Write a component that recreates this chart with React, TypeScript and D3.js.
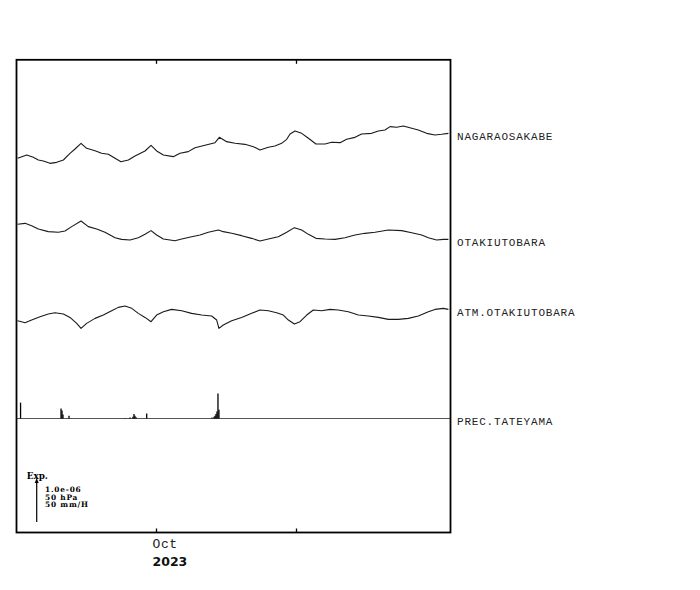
import React from "react";
import * as d3 from "d3";

// ---- data ----
const START = Date.UTC(2023, 8, 21); // Sep 21 2023
const END = Date.UTC(2023, 9, 22); // Oct 22 2023
const DAY = 86400000;

const tickDates = [Date.UTC(2023, 9, 1), Date.UTC(2023, 9, 11)];
const tickLabels = ["Oct", ""];
const yearLabel = "2023";

const seriesNames = ["NAGARAOSAKABE", "OTAKIUTOBARA", "ATM.OTAKIUTOBARA", "PREC.TATEYAMA"];

// strain, nanostrain (relative)
const nagaraDays = [0.08, 0.73, 1.2, 1.56, 1.92, 2.39, 2.87, 3.35, 3.82, 4.18, 4.61, 5.01, 5.61, 6.08, 6.56, 7.04, 7.46, 7.99, 8.46, 9.18, 9.61, 10.01, 10.49, 11.2, 11.68, 12.27, 12.75, 13.46, 14.18, 14.49, 15.01, 15.61, 16.32, 16.92, 17.39, 17.99, 18.46, 18.94, 19.3, 19.54, 19.89, 20.37, 20.85, 21.39, 22.04, 22.51, 23.11, 23.58, 24.18, 24.65, 25.37, 25.85, 26.32, 26.68, 27.15, 27.63, 28.23, 28.7, 29.3, 29.89, 30.37, 30.85];
const nagaraValues = [38, 114, 61, 0, -23, -76, -53, 0, 152, 250, 379, 265, 212, 152, 129, 38, -38, 0, 91, 205, 334, 205, 114, 76, 152, 190, 280, 334, 394, 515, 417, 379, 356, 303, 227, 288, 318, 379, 470, 591, 659, 606, 493, 364, 364, 402, 394, 470, 515, 591, 606, 659, 682, 758, 743, 773, 720, 682, 606, 569, 584, 606];

const otakiDays = [0.08, 0.61, 1.08, 1.56, 2.27, 2.99, 3.46, 3.94, 4.61, 5.13, 5.73, 6.32, 7.04, 7.51, 8.11, 8.7, 9.18, 9.61, 10.01, 10.49, 11.32, 11.8, 12.51, 13.11, 13.7, 14.42, 14.77, 15.37, 16.08, 16.8, 17.39, 17.99, 18.7, 19.3, 19.85, 20.37, 20.85, 21.39, 22.04, 22.75, 23.46, 24.18, 24.89, 25.61, 26.56, 27.51, 28.23, 28.94, 29.42, 30.01, 30.49, 30.85];
const otakiValues = [243, 265, 212, 136, 76, 61, 91, 190, 318, 190, 136, 61, -61, -99, -114, -61, 15, 99, 0, -91, -129, -91, -38, 0, 61, 114, 76, 38, -15, -76, -136, -91, -38, 61, 167, 114, 15, -76, -91, -99, -61, 0, 38, 61, 114, 99, 53, 0, -61, -114, -99, -99];

// atmospheric pressure, hPa
const atmDays = [0.08, 0.61, 1.08, 1.68, 2.27, 2.75, 3.35, 3.82, 4.3, 4.61, 5.01, 5.61, 6.2, 6.8, 7.27, 7.75, 8.23, 8.7, 9.18, 9.61, 10.01, 10.49, 11.08, 11.8, 12.51, 13.23, 13.94, 14.3, 14.46, 14.77, 15.37, 16.08, 16.8, 17.39, 17.99, 18.58, 19.06, 19.42, 19.85, 20.25, 20.73, 21.2, 21.8, 22.39, 22.99, 23.7, 24.42, 25.13, 25.85, 26.56, 27.27, 27.99, 28.7, 29.42, 29.89, 30.49, 30.85];
const atmValues = [1005.5, 1003.2, 1006.2, 1010.0, 1013.0, 1014.5, 1013.0, 1009.2, 1002.4, 996.7, 1002.4, 1008.1, 1011.9, 1016.8, 1020.6, 1022.1, 1019.5, 1013.8, 1009.2, 1004.3, 1011.9, 1015.7, 1018.3, 1016.8, 1013.8, 1011.9, 1010.8, 1006.2, 996.7, 1000.5, 1005.5, 1009.2, 1013.8, 1017.6, 1016.8, 1014.5, 1011.9, 1006.2, 1001.7, 1004.3, 1011.9, 1017.6, 1016.8, 1018.3, 1017.6, 1015.7, 1011.9, 1010.8, 1009.2, 1007.0, 1007.0, 1008.1, 1010.8, 1015.7, 1018.3, 1019.5, 1018.3];

// precipitation, mm/h
const precDays = [0.29, 3.18, 3.25, 3.32, 3.75, 7.75, 8.11, 8.32, 8.39, 8.46, 8.54, 9.3, 13.96, 14.11, 14.18, 14.25, 14.32, 14.39, 14.46];
const precValues = [18, 11.4, 9, 4.5, 3, 0.5, 1, 2, 5, 3, 1.5, 5.7, 1, 2, 3, 5, 8, 28.4, 10];

const scaleTitle = "Exp.";
const scaleLabels = ["1.0e-06", "50 hPa", "50 mm/H"];

// ---- layout ----
const L = 16.5, R = 450.5, T = 59.8, B = 532.5;
const UNIT_PX = 44; // length of scale arrow

export default function App() {
  const x = d3.scaleUtc().domain([new Date(START), new Date(END)]).range([L, R]);
  const toDate = (d: number) => new Date(START + d * DAY);

  const yNag = d3.scaleLinear().domain([0, 1000]).range([160, 160 - UNIT_PX]);
  const yOta = d3.scaleLinear().domain([0, 1000]).range([235, 235 - UNIT_PX]);
  const yAtm = d3.scaleLinear().domain([1010, 1060]).range([316.7, 316.7 - UNIT_PX]);
  const yPrec = d3.scaleLinear().domain([0, 50]).range([418.5, 418.5 - UNIT_PX]);

  const mk = (days: number[], vals: number[], y: d3.ScaleLinear<number, number>) =>
    d3.line<number>().x((_, i) => x(toDate(days[i]))).y((v) => y(v))(vals) || "";

  const series = [
    { name: seriesNames[0], path: mk(nagaraDays, nagaraValues, yNag), lastY: yNag(nagaraValues[nagaraValues.length - 1]) },
    { name: seriesNames[1], path: mk(otakiDays, otakiValues, yOta), lastY: yOta(otakiValues[otakiValues.length - 1]) },
    { name: seriesNames[2], path: mk(atmDays, atmValues, yAtm), lastY: yAtm(atmValues[atmValues.length - 1]) },
  ];

  const scaleBottom = 522;
  const arrowX = 36.7;

  return (
    <svg width={700} height={590} style={{ position: "absolute", left: 0, top: 0, background: "#fff" }}>
      <rect x={0} y={0} width={700} height={590} fill="#fff" />
      {/* series */}
      {series.map((s) => (
        <g key={s.name}>
          <path d={s.path} fill="none" stroke="#1a1a1a" strokeWidth={1.1} strokeLinejoin="round" />
          <text x={457} y={s.lastY + 6.5} fontFamily="'Liberation Mono', monospace" fontSize={11} letterSpacing={0.8} fill="#222">
            {s.name}
          </text>
        </g>
      ))}
      {/* precipitation */}
      <line x1={L} x2={R} y1={yPrec(0)} y2={yPrec(0)} stroke="#555" strokeWidth={1.1} />
      {precValues.map((v, i) => (
        <line key={i} x1={x(toDate(precDays[i]))} x2={x(toDate(precDays[i]))} y1={yPrec(0)} y2={yPrec(v)} stroke="#000" strokeWidth={1.3} />
      ))}
      <text x={457} y={yPrec(0) + 6.5} fontFamily="'Liberation Mono', monospace" fontSize={11} letterSpacing={0.8} fill="#222">
        {seriesNames[3]}
      </text>

      {/* frame */}
      <rect x={L} y={T} width={R - L} height={B - T} fill="none" stroke="#000" strokeWidth={1.8} />
      {tickDates.map((t, i) => (
        <g key={t}>
          <line x1={x(new Date(t))} x2={x(new Date(t))} y1={T} y2={T + 4} stroke="#000" strokeWidth={1.3} />
          <line x1={x(new Date(t))} x2={x(new Date(t))} y1={B} y2={B - 4} stroke="#000" strokeWidth={1.3} />
          {tickLabels[i] && (
            <text x={x(new Date(t)) - 4} y={548.3} fontFamily="'Liberation Mono', monospace" fontSize={13} letterSpacing={0.6} fill="#222">
              {tickLabels[i]}
            </text>
          )}
        </g>
      ))}
      <text x={x(new Date(tickDates[0])) - 4} y={566} fontFamily="'DejaVu Sans', sans-serif" fontWeight="bold" fontSize={12.5} fill="#111">
        {yearLabel}
      </text>

      {/* scale legend */}
      <text x={26.7} y={479.3} fontFamily="'DejaVu Serif', serif" fontWeight="bold" fontSize={8.8} fill="#000">{scaleTitle}</text>
      <line x1={arrowX} x2={arrowX} y1={scaleBottom} y2={scaleBottom - UNIT_PX + 4} stroke="#000" strokeWidth={1.2} />
      <path d={`M${arrowX - 2},${scaleBottom - UNIT_PX + 5} L${arrowX},${scaleBottom - UNIT_PX} L${arrowX + 2},${scaleBottom - UNIT_PX + 5} Z`} fill="#000" />
      {scaleLabels.map((s, i) => (
        <text key={s} x={45} y={491.8 + i * 7.8} fontFamily="'DejaVu Serif', serif" fontWeight="bold" fontSize={7.4} letterSpacing={0.8} fill="#000">
          {s}
        </text>
      ))}
    </svg>
  );
}
